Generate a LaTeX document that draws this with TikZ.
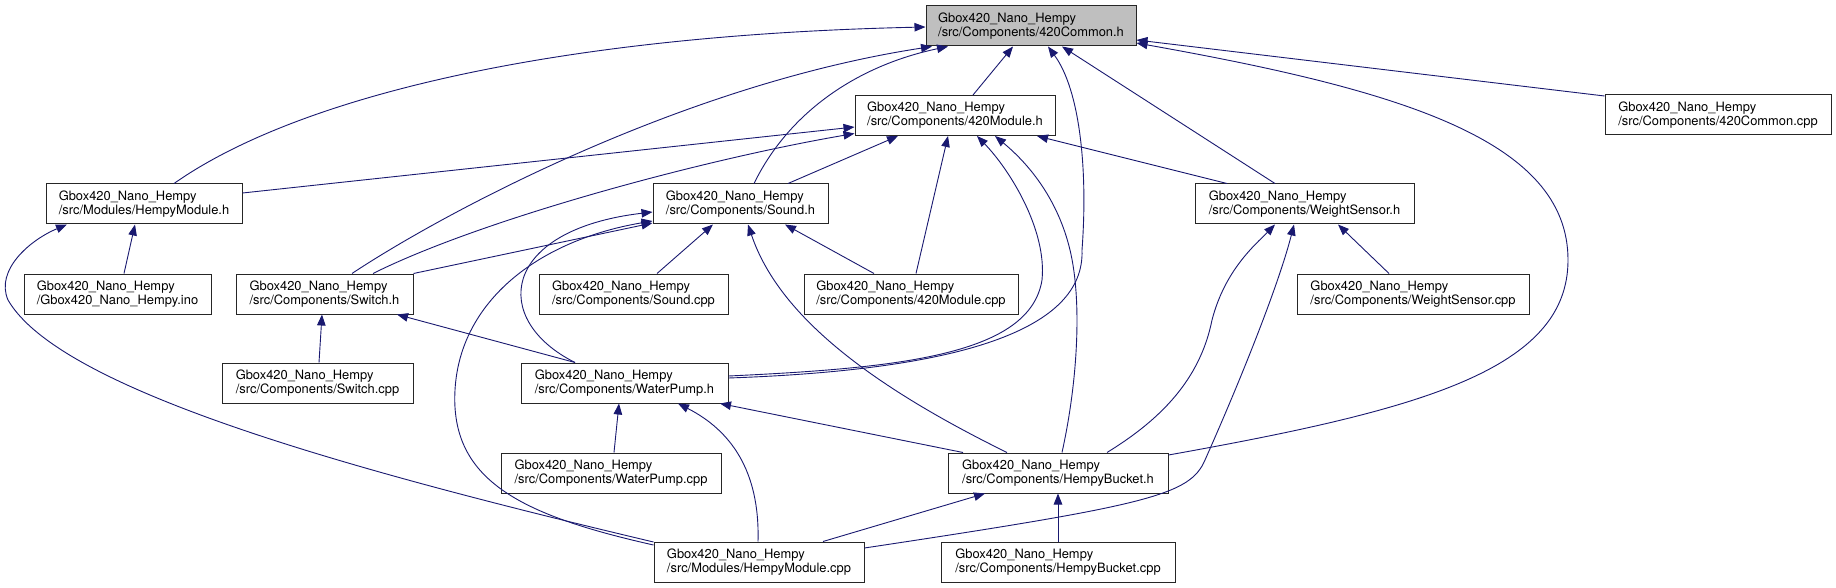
\documentclass[tikz,border=0pt]{standalone}
\usepackage{fontspec}
\setmainfont{TeX Gyre Heros}
\usepackage{tikz}
\usetikzlibrary{arrows.meta}
\definecolor{edgeblue}{HTML}{191970}
\definecolor{rootgray}{HTML}{BFBFBF}

\begin{document}
\begin{tikzpicture}[x=1pt,y=-1pt,
      file/.style={draw=black!85,line width=1pt,fill=white,minimum height=40pt,
                   inner xsep=11pt,inner ysep=2pt,align=left,
                   font=\fontsize{12.9}{14}\selectfont},
      root/.style={file,fill=rootgray},
      inc/.style={-{Triangle[length=11pt,width=8.5pt]},edgeblue,line width=0.9pt},
  ]
  \path[use as bounding box,fill=white] (0,0) rectangle (1836,588);

  %--- files ---
  \node[root,minimum width=210pt] (comH) at (1031,26) {Gbox420\_Nano\_Hempy\\/src/Components/420Common.h};
  \node[file,minimum width=200pt] (modH) at (955,115.5) {Gbox420\_Nano\_Hempy\\/src/Components/420Module.h};
  \node[file,minimum width=226pt] (cmCpp) at (1718,115) {Gbox420\_Nano\_Hempy\\/src/Components/420Common.cpp};
  \node[file,minimum width=196pt] (hmodH) at (144,204) {Gbox420\_Nano\_Hempy\\/src/Modules/HempyModule.h};
  \node[file,minimum width=175pt] (sndH) at (740.5,204) {Gbox420\_Nano\_Hempy\\/src/Components/Sound.h};
  \node[file,minimum width=219pt] (wsH) at (1304.5,204) {Gbox420\_Nano\_Hempy\\/src/Components/WeightSensor.h};
  \node[file,minimum width=187pt] (ino) at (117.5,294) {Gbox420\_Nano\_Hempy\\/Gbox420\_Nano\_Hempy.ino};
  \node[file,minimum width=177pt] (swH) at (324.5,294) {Gbox420\_Nano\_Hempy\\/src/Components/Switch.h};
  \node[file,minimum width=189pt] (sndCpp) at (633.5,294) {Gbox420\_Nano\_Hempy\\/src/Components/Sound.cpp};
  \node[file,minimum width=214pt] (modCpp) at (911,294) {Gbox420\_Nano\_Hempy\\/src/Components/420Module.cpp};
  \node[file,minimum width=232pt] (wsCpp) at (1413,294) {Gbox420\_Nano\_Hempy\\/src/Components/WeightSensor.cpp};
  \node[file,minimum width=191pt] (swCpp) at (317.5,383) {Gbox420\_Nano\_Hempy\\/src/Components/Switch.cpp};
  \node[file,minimum width=207pt] (wpH) at (624.5,383) {Gbox420\_Nano\_Hempy\\/src/Components/WaterPump.h};
  \node[file,minimum width=220pt] (wpCpp) at (611,473) {Gbox420\_Nano\_Hempy\\/src/Components/WaterPump.cpp};
  \node[file,minimum width=220pt] (hbH) at (1058,473) {Gbox420\_Nano\_Hempy\\/src/Components/HempyBucket.h};
  \node[file,minimum width=210pt] (hmodCpp) at (759,562) {Gbox420\_Nano\_Hempy\\/src/Modules/HempyModule.cpp};
  \node[file,minimum width=234pt] (hbCpp) at (1058,562) {Gbox420\_Nano\_Hempy\\/src/Components/HempyBucket.cpp};

  %--- into 420Common.h ---
  \draw[inc] ([xshift=30pt]hmodH.north) .. controls (300,95) and (560,35) .. ([yshift=-1pt]comH.west);
  \draw[inc] ([xshift=27.5pt]swH.north) .. controls (440,215) and (680,85) .. ([xshift=-99pt]comH.south);
  \draw[inc] ([xshift=13.5pt]sndH.north) .. controls (790,110) and (860,65) .. ([xshift=-83pt]comH.south);
  \draw[inc] ([xshift=18pt]modH.north) -- ([xshift=-18pt]comH.south);
  \draw[inc] ([yshift=5pt]wpH.east) .. controls (960,370) and (1085,330) .. (1082,250)
             .. controls (1088,170) and (1080,90) .. ([xshift=17pt]comH.south);
  \draw[inc] ([xshift=-29.5pt]wsH.north) -- ([xshift=31pt]comH.south);
  \draw[inc] ([yshift=18pt]hbH.east) .. controls (1420,410) and (1568,370) .. (1568,260)
             .. controls (1568,140) and (1400,90) .. ([yshift=-17pt]comH.east);
  \draw[inc] ([yshift=19pt]cmCpp.west) -- ([yshift=-14pt]comH.east);

  %--- into 420Module.h ---
  \draw[inc] ([yshift=11pt]hmodH.east) -- ([yshift=-11.5pt]modH.west);
  \draw[inc] ([xshift=48.5pt]swH.north) .. controls (480,220) and (700,160) .. ([yshift=-18pt]modH.west);
  \draw[inc] ([xshift=47.5pt]sndH.north) -- ([xshift=-57pt]modH.south);
  \draw[inc] ([xshift=5pt]modCpp.north) -- ([xshift=-7pt]modH.south);
  \draw[inc] ([yshift=7pt]wpH.east) .. controls (900,368) and (1030,355) .. (1042,280)
             .. controls (1047,230) and (1010,170) .. ([xshift=22pt]modH.south);
  \draw[inc] ([xshift=4pt]hbH.north) .. controls (1078,380) and (1082,300) .. (1070,250)
             .. controls (1058,200) and (1030,165) .. ([xshift=40pt]modH.south);
  \draw[inc] ([xshift=-77.5pt]wsH.north) -- ([xshift=82pt]modH.south);

  %--- into Sound.h ---
  \draw[inc] (swH.north east) -- ([yshift=-19pt]sndH.west);
  \draw[inc] ([xshift=-49.5pt]wpH.north) .. controls (490,320) and (500,230) .. ([yshift=-8pt]sndH.west);
  \draw[inc] ([yshift=17pt]hmodCpp.west) .. controls (520,515) and (450,480) .. (455,390)
             .. controls (460,300) and (540,240) .. ([yshift=-17pt]sndH.west);
  \draw[inc] ([xshift=23.5pt]sndCpp.north) -- ([xshift=-27.5pt]sndH.south);
  \draw[inc] ([xshift=-37pt]modCpp.north) -- ([xshift=44.5pt]sndH.south);
  \draw[inc] ([xshift=-51pt]hbH.north) .. controls (880,390) and (780,320) .. ([xshift=7.5pt]sndH.south);

  %--- into HempyModule.h ---
  \draw[inc] ([xshift=6.5pt]ino.north) -- ([xshift=-9pt]hmodH.south);
  \draw[inc] ([yshift=20pt]hmodCpp.west) .. controls (350,470) and (60,390) .. (8,300)
             .. controls (-5,270) and (30,240) .. ([xshift=-77pt]hmodH.south);

  %--- into Switch.h ---
  \draw[inc] ([xshift=1.5pt]swCpp.north) -- ([xshift=-2.5pt]swH.south);
  \draw[inc] ([xshift=-49.5pt]wpH.north) -- ([xshift=72.5pt]swH.south);

  %--- into WeightSensor.h ---
  \draw[inc] ([xshift=-24pt]wsCpp.north) -- ([xshift=33.5pt]wsH.south);
  \draw[inc] ([xshift=49pt]hbH.north) .. controls (1160,420) and (1200,380) .. (1212,320)
             .. controls (1225,270) and (1255,245) .. ([xshift=-29.5pt]wsH.south);
  \draw[inc] ([yshift=14pt]hmodCpp.east) .. controls (1150,505) and (1190,495) .. (1205,460)
             .. controls (1245,370) and (1280,280) .. ([xshift=-10.5pt]wsH.south);

  %--- into WaterPump.h ---
  \draw[inc] ([xshift=3pt]wpCpp.north) -- ([xshift=-5.5pt]wpH.south);
  \draw[inc] ([xshift=-1pt]hmodCpp.north) .. controls (760,470) and (730,430) .. ([xshift=53.5pt]wpH.south);
  \draw[inc] ([xshift=-95pt]hbH.north) -- ([xshift=95.5pt]wpH.south);

  %--- into HempyBucket.h ---
  \draw[inc] ([xshift=64pt]hmodCpp.north) -- ([xshift=-73pt]hbH.south);
  \draw[inc] (hbCpp.north) -- (hbH.south);
\end{tikzpicture}
\end{document}
